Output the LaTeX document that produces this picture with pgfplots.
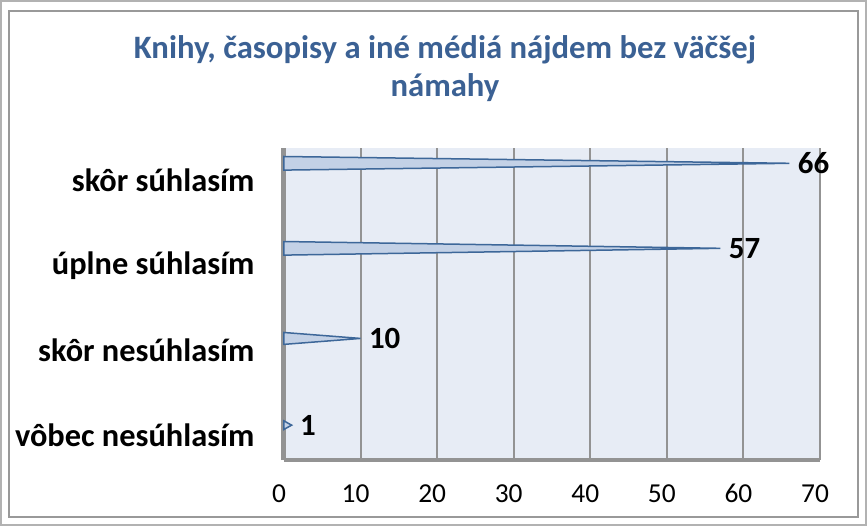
\documentclass[border=0pt]{standalone}
\usepackage{pgfplots}
\pgfplotsset{compat=1.18}
\usepackage{fontspec}
\setmainfont{Carlito}
\definecolor{titleblue}{HTML}{3B6194}
\definecolor{conefill}{HTML}{C3D1E6}
\definecolor{coneedge}{HTML}{3D6799}
\definecolor{wallfill}{HTML}{E7ECF5}
\definecolor{gridgray}{HTML}{939393}
\begin{document}
\begin{tikzpicture}
% frame
\fill[white] (-284bp,-66bp) rectangle (583bp,460bp);
\draw[line width=2bp, gray!60] (-283bp,-65bp) rectangle (582bp,459bp);
\draw[line width=1.5bp, gray!80] (-275bp,-57bp) rectangle (574bp,449bp);
\begin{axis}[
  at={(0,0)}, anchor=south west,
  scale only axis, width=536bp, height=312bp,
  xmin=0, xmax=70, ymin=-0.29, ymax=3.38,
  xtick={0,10,...,70},
  ytick={0,1,2,3},
  yticklabels={vôbec nesúhlasím, skôr nesúhlasím, úplne súhlasím, skôr súhlasím},
  major tick length=0pt,
  xmajorgrids,
  grid style={gridgray, line width=2bp},
  axis background/.style={fill=wallfill},
  axis x line*=bottom, axis y line*=left,
  x axis line style={gridgray, line width=4bp, -},
  y axis line style={gridgray, line width=5bp, -},
  yticklabel style={font=\bfseries\fontsize{32.5}{36}\selectfont, xshift=-26bp},
  xticklabel style={font=\fontsize{27.5}{30}\selectfont, anchor=base, yshift=-42bp, xshift=-5bp},
  /pgf/number format/assume math mode=true,
  clip=false,
]
\addplot[fill=conefill, draw=coneedge, line width=1.5bp] coordinates {(0,3.28) (66,3.2) (0,3.12)} -- cycle;
\addplot[fill=conefill, draw=coneedge, line width=1.5bp] coordinates {(0,2.28) (57,2.2) (0,2.12)} -- cycle;
\addplot[fill=conefill, draw=coneedge, line width=1.5bp] coordinates {(0,1.21) (10,1.14) (0,1.07)} -- cycle;
\addplot[fill=conefill, draw=coneedge, line width=1.5bp] coordinates {(0,0.17) (1,0.12) (0,0.07)} -- cycle;
\addplot[draw=none, mark=none, point meta=x,
  nodes near coords,
  nodes near coords style={anchor=west, xshift=5bp, font=\bfseries\fontsize{31}{34}\selectfont, text=black}]
  coordinates {(66,3.2) (57,2.2) (10,1.14) (1,0.12)};
\end{axis}
\node[font=\bfseries\fontsize{32.8}{38}\selectfont, text=titleblue, align=center] at (161bp,391bp)
  {Knihy, časopisy a iné médiá nájdem bez väčšej\\námahy};
\end{tikzpicture}
\end{document}
